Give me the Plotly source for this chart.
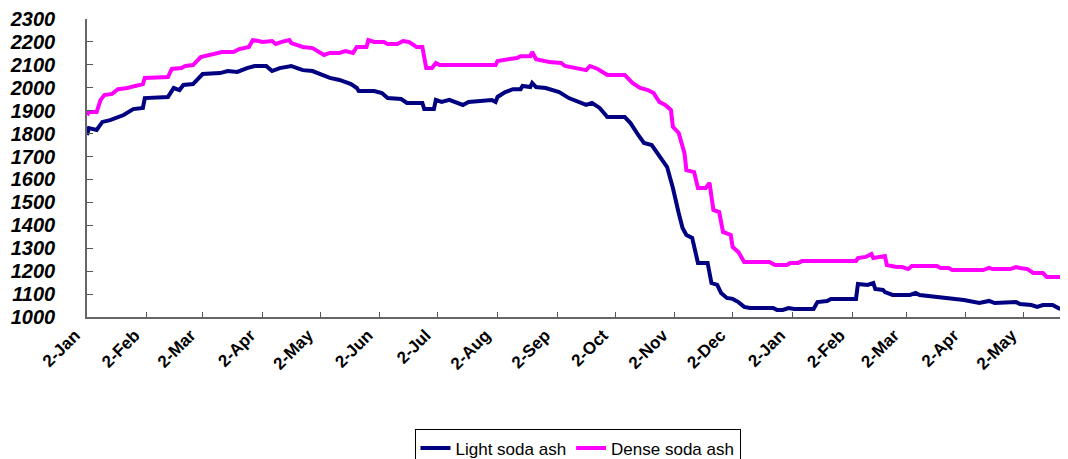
import plotly.graph_objects as go

light_dates = [
    "2008-01-02", "2008-01-03", "2008-01-07", "2008-01-10", "2008-01-14", "2008-01-21", "2008-01-26", "2008-01-31",
    "2008-02-01", "2008-02-13", "2008-02-16", "2008-02-19", "2008-02-21", "2008-02-26", "2008-03-02", "2008-03-11",
    "2008-03-15", "2008-03-20", "2008-03-25", "2008-03-29", "2008-04-04", "2008-04-07", "2008-04-11", "2008-04-16",
    "2008-04-17", "2008-04-20", "2008-04-23", "2008-04-28", "2008-05-03", "2008-05-07", "2008-05-12", "2008-05-15",
    "2008-05-18", "2008-05-21", "2008-05-22", "2008-05-30", "2008-06-03", "2008-06-06", "2008-06-13", "2008-06-16",
    "2008-06-24", "2008-06-25", "2008-06-30", "2008-07-01", "2008-07-04", "2008-07-08", "2008-07-12", "2008-07-15",
    "2008-07-18", "2008-07-27", "2008-07-30", "2008-08-01", "2008-08-02", "2008-08-06", "2008-08-10", "2008-08-14",
    "2008-08-15", "2008-08-19", "2008-08-20", "2008-08-22", "2008-08-27", "2008-09-03", "2008-09-08", "2008-09-17",
    "2008-09-20", "2008-09-24", "2008-09-28", "2008-10-07", "2008-10-10", "2008-10-14", "2008-10-17", "2008-10-21",
    "2008-10-25", "2008-10-27", "2008-10-29", "2008-11-01", "2008-11-02", "2008-11-04", "2008-11-06", "2008-11-08",
    "2008-11-11", "2008-11-14", "2008-11-19", "2008-11-21", "2008-11-24", "2008-11-26", "2008-11-29", "2008-12-02",
    "2008-12-05", "2008-12-08", "2008-12-11", "2008-12-23", "2008-12-25", "2008-12-28", "2008-12-31", "2009-01-03",
    "2009-01-13", "2009-01-15", "2009-01-20", "2009-01-22", "2009-02-04", "2009-02-05", "2009-02-10", "2009-02-13",
    "2009-02-14", "2009-02-18", "2009-02-19", "2009-02-23", "2009-03-04", "2009-03-07", "2009-03-09", "2009-03-18",
    "2009-03-23", "2009-04-01", "2009-04-09", "2009-04-14", "2009-04-17", "2009-04-26", "2009-04-28", "2009-04-30",
    "2009-05-06", "2009-05-09", "2009-05-12", "2009-05-17", "2009-05-20", "2009-05-25",
]
light_values = [
    1794, 1824, 1816, 1851, 1859, 1881, 1907, 1912,
    1955, 1960, 1999, 1990, 2012, 2016, 2060, 2064,
    2073, 2069, 2086, 2095, 2095, 2073, 2086, 2090,
    2095, 2086, 2077, 2073, 2056, 2043, 2034, 2025,
    2016, 1999, 1986, 1986, 1977, 1955, 1951, 1934,
    1934, 1907, 1907, 1947, 1938, 1947, 1934, 1925,
    1938, 1942, 1947, 1938, 1960, 1981, 1994, 1994,
    2008, 2003, 2021, 2003, 1999, 1981, 1955, 1925,
    1934, 1912, 1872, 1872, 1846, 1794, 1759, 1750,
    1698, 1676, 1654, 1563, 1523, 1454, 1388, 1358,
    1345, 1236, 1236, 1148, 1140, 1105, 1083, 1079,
    1065, 1044, 1039, 1039, 1031, 1031, 1039, 1035,
    1035, 1065, 1070, 1079, 1079, 1144, 1140, 1148,
    1122, 1118, 1109, 1096, 1096, 1105, 1096, 1087,
    1079, 1074, 1061, 1070, 1061, 1061, 1065, 1057,
    1052, 1044, 1052, 1052, 1039, 1026,
]

dense_dates = [
    "2008-01-02", "2008-01-03", "2008-01-07", "2008-01-09", "2008-01-11", "2008-01-15", "2008-01-18", "2008-01-23",
    "2008-01-27", "2008-01-31", "2008-02-01", "2008-02-13", "2008-02-15", "2008-02-20", "2008-02-22", "2008-02-26",
    "2008-03-01", "2008-03-05", "2008-03-12", "2008-03-18", "2008-03-21", "2008-03-26", "2008-03-28", "2008-03-31",
    "2008-04-02", "2008-04-07", "2008-04-09", "2008-04-12", "2008-04-16", "2008-04-17", "2008-04-23", "2008-04-28",
    "2008-05-04", "2008-05-07", "2008-05-12", "2008-05-15", "2008-05-19", "2008-05-21", "2008-05-26", "2008-05-27",
    "2008-05-30", "2008-06-04", "2008-06-06", "2008-06-11", "2008-06-14", "2008-06-17", "2008-06-19", "2008-06-21",
    "2008-06-24", "2008-06-26", "2008-06-29", "2008-07-01", "2008-07-03", "2008-08-01", "2008-08-02", "2008-08-07",
    "2008-08-12", "2008-08-14", "2008-08-19", "2008-08-20", "2008-08-22", "2008-08-29", "2008-09-04", "2008-09-06",
    "2008-09-10", "2008-09-13", "2008-09-17", "2008-09-19", "2008-09-23", "2008-09-28", "2008-10-07", "2008-10-11",
    "2008-10-15", "2008-10-19", "2008-10-22", "2008-10-25", "2008-10-28", "2008-10-31", "2008-11-01", "2008-11-04",
    "2008-11-06", "2008-11-07", "2008-11-08", "2008-11-12", "2008-11-14", "2008-11-18", "2008-11-20", "2008-11-22",
    "2008-11-25", "2008-11-27", "2008-12-01", "2008-12-02", "2008-12-05", "2008-12-08", "2008-12-21", "2008-12-24",
    "2008-12-30", "2009-01-01", "2009-01-05", "2009-01-07", "2009-02-04", "2009-02-05", "2009-02-09", "2009-02-12",
    "2009-02-13", "2009-02-17", "2009-02-19", "2009-02-20", "2009-02-25", "2009-02-28", "2009-03-03", "2009-03-05",
    "2009-03-18", "2009-03-20", "2009-03-24", "2009-03-26", "2009-04-11", "2009-04-14", "2009-04-16", "2009-04-25",
    "2009-04-28", "2009-04-30", "2009-05-04", "2009-05-07", "2009-05-12", "2009-05-14", "2009-05-25",
]
dense_values = [
    1881, 1894, 1894, 1946, 1968, 1973, 1994, 1999,
    2008, 2016, 2043, 2047, 2082, 2086, 2095, 2099,
    2134, 2143, 2156, 2156, 2169, 2178, 2208, 2204,
    2200, 2204, 2191, 2200, 2208, 2195, 2178, 2173,
    2143, 2152, 2152, 2160, 2152, 2178, 2178, 2208,
    2200, 2200, 2191, 2191, 2204, 2200, 2187, 2178,
    2178, 2086, 2086, 2108, 2099, 2099, 2117, 2125,
    2130, 2138, 2138, 2156, 2125, 2112, 2108, 2095,
    2090, 2082, 2077, 2095, 2082, 2056, 2056, 2021,
    1999, 1990, 1977, 1938, 1925, 1903, 1829, 1803,
    1741, 1715, 1641, 1632, 1563, 1563, 1585, 1467,
    1458, 1371, 1358, 1305, 1283, 1240, 1240, 1227,
    1227, 1236, 1236, 1244, 1244, 1257, 1262, 1275,
    1257, 1262, 1266, 1227, 1218, 1218, 1209, 1222,
    1222, 1214, 1214, 1205, 1205, 1214, 1209, 1209,
    1218, 1214, 1209, 1192, 1192, 1175, 1175,
]

tick_dates = [
    "2008-01-02", "2008-02-02", "2008-03-02", "2008-04-02", "2008-05-02", "2008-06-02", "2008-07-02",
    "2008-08-02", "2008-09-02", "2008-10-02", "2008-11-02", "2008-12-02", "2009-01-02", "2009-02-02",
    "2009-03-02", "2009-04-02", "2009-05-02",
]
tick_labels = [
    "2-Jan", "2-Feb", "2-Mar", "2-Apr", "2-May", "2-Jun", "2-Jul", "2-Aug", "2-Sep", "2-Oct",
    "2-Nov", "2-Dec", "2-Jan", "2-Feb", "2-Mar", "2-Apr", "2-May",
]
y_ticks = list(range(1000, 2301, 100))

FONT = "Liberation Sans, Arial, sans-serif"

fig = go.Figure()
fig.add_trace(go.Scatter(x=light_dates, y=light_values, mode="lines", name="Light soda ash",
                         line=dict(color="#000080", width=4)))
fig.add_trace(go.Scatter(x=dense_dates, y=dense_values, mode="lines", name="Dense soda ash",
                         line=dict(color="#FF00FF", width=4)))

# The page body adds an 8px offset, so the figure is sized and placed to compensate.
fig.update_layout(
    width=1060, height=451,
    margin=dict(l=79, r=0, t=11, b=142, autoexpand=False),
    paper_bgcolor="white", plot_bgcolor="white",
    font=dict(family=FONT, color="black"),
    showlegend=True,
    legend=dict(orientation="h", x=0.5, xanchor="center", y=-0.377, yanchor="top",
                bordercolor="black", borderwidth=1, font=dict(size=17, family=FONT),
                itemwidth=30, tracegroupgap=0),
    xaxis=dict(type="date", range=["2008-01-02", "2009-05-25"], automargin=False,
               tickmode="array", tickvals=tick_dates, ticktext=tick_labels,
               tickangle=-45, tickfont=dict(size=17, family=FONT, weight="bold"),
               ticks="inside", ticklen=5, tickcolor="#555", showgrid=False,
               showline=True, linecolor="#666", linewidth=1.5, zeroline=False,
               ticklabelstandoff=0, ticklabelshift=-12),
    yaxis=dict(range=[1000, 2300], tickmode="array", tickvals=y_ticks, automargin=False,
               tickfont=dict(size=20, family=FONT, weight="bold", style="italic"),
               ticks="inside", ticklen=6, tickcolor="#555", showgrid=False,
               showline=True, linecolor="#666", linewidth=1.5, zeroline=False,
               ticklabelstandoff=26),
)

fig.write_html("out.html")
